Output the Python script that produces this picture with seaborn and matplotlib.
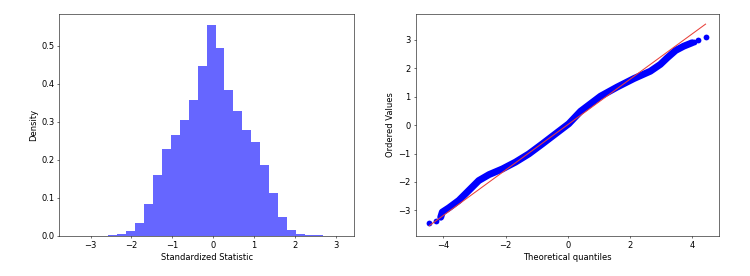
import numpy as np
import pandas as pd
import matplotlib
matplotlib.use("Agg")
import matplotlib.pyplot as plt
import seaborn as sns

# ---------------- data ----------------
# histogram (30 bins between data min and max), density per bin
hist_min = -3.44
hist_max = 3.12
n_bins = 30
hist_density = [0.00005, 0.0002, 0.001, 0.001, 0.0015, 0.005, 0.012, 0.033, 0.085, 0.160,
                0.228, 0.265, 0.305, 0.357, 0.448, 0.556, 0.495, 0.383, 0.328, 0.280,
                0.248, 0.188, 0.113, 0.049, 0.016, 0.006, 0.003, 0.002, 0.001, 0.0002]

# Q-Q plot: dense body of ordered values vs theoretical quantiles
qq_body_x = [-4.08, -4.03, -3.82, -3.50, -3.18, -2.86, -2.53, -2.10, -1.68, -1.25,
             -0.82, -0.39, 0.03, 0.41, 1.05, 1.58, 2.12, 2.65, 2.97, 3.19,
             3.46, 3.72, 3.99]
qq_body_y = [-3.24, -3.06, -2.91, -2.65, -2.30, -1.95, -1.74, -1.54, -1.30, -1.01,
             -0.66, -0.30, 0.05, 0.49, 1.02, 1.34, 1.64, 1.90, 2.14, 2.37,
             2.63, 2.78, 2.90]
# isolated tail points
qq_tail_x = [-4.45, -4.22, 4.06, 4.18, 4.42]
qq_tail_y = [-3.44, -3.39, 2.94, 2.98, 3.12]
# least-squares fit line
fit_slope = 0.80
fit_intercept = 0.02
fit_xrange = [-4.45, 4.42]

# ---------------- figure ----------------
plt.rcParams["font.size"] = 12
fig = plt.figure(figsize=(15, 5.52), dpi=50)
ax1 = fig.add_axes([0.079, 0.145, 0.393, 0.804])
ax2 = fig.add_axes([0.554, 0.145, 0.405, 0.804])

edges = np.linspace(hist_min, hist_max, n_bins + 1)
centers = (edges[:-1] + edges[1:]) / 2
hist_df = pd.DataFrame({"x": centers, "w": hist_density})
sns.histplot(data=hist_df, x="x", weights="w", bins=n_bins,
             binrange=(hist_min, hist_max), stat="count",
             color="blue", alpha=0.6, linewidth=0, ax=ax1)
ax1.set_xlabel("Standardized Statistic")
ax1.set_ylabel("Density")
ax1.set_yticks([0.0, 0.1, 0.2, 0.3, 0.4, 0.5])

body_df = pd.DataFrame({"x": qq_body_x, "y": qq_body_y})
sns.lineplot(data=body_df, x="x", y="y", sort=False, estimator=None, color="blue",
             linewidth=10, solid_capstyle="round", solid_joinstyle="round", ax=ax2)
tail_df = pd.DataFrame({"x": qq_tail_x, "y": qq_tail_y})
sns.scatterplot(data=tail_df, x="x", y="y", color="blue", s=70, linewidth=0, ax=ax2)
fx = np.array(fit_xrange)
fit_df = pd.DataFrame({"x": fx, "y": fit_slope * fx + fit_intercept})
sns.lineplot(data=fit_df, x="x", y="y", color="#e8413a", linewidth=1.5, ax=ax2)
ax2.set_xlabel("Theoretical quantiles")
ax2.set_ylabel("Ordered Values")
ax2.set_xticks([-4, -2, 0, 2, 4])
ax2.set_yticks([-3, -2, -1, 0, 1, 2, 3])

ax2.set_xlim(-4.89, 4.86)
ax2.set_ylim(-3.9, 3.91)
ax1.set_xlim(-3.768, 3.448)

fig.savefig("out.png", dpi=50)
